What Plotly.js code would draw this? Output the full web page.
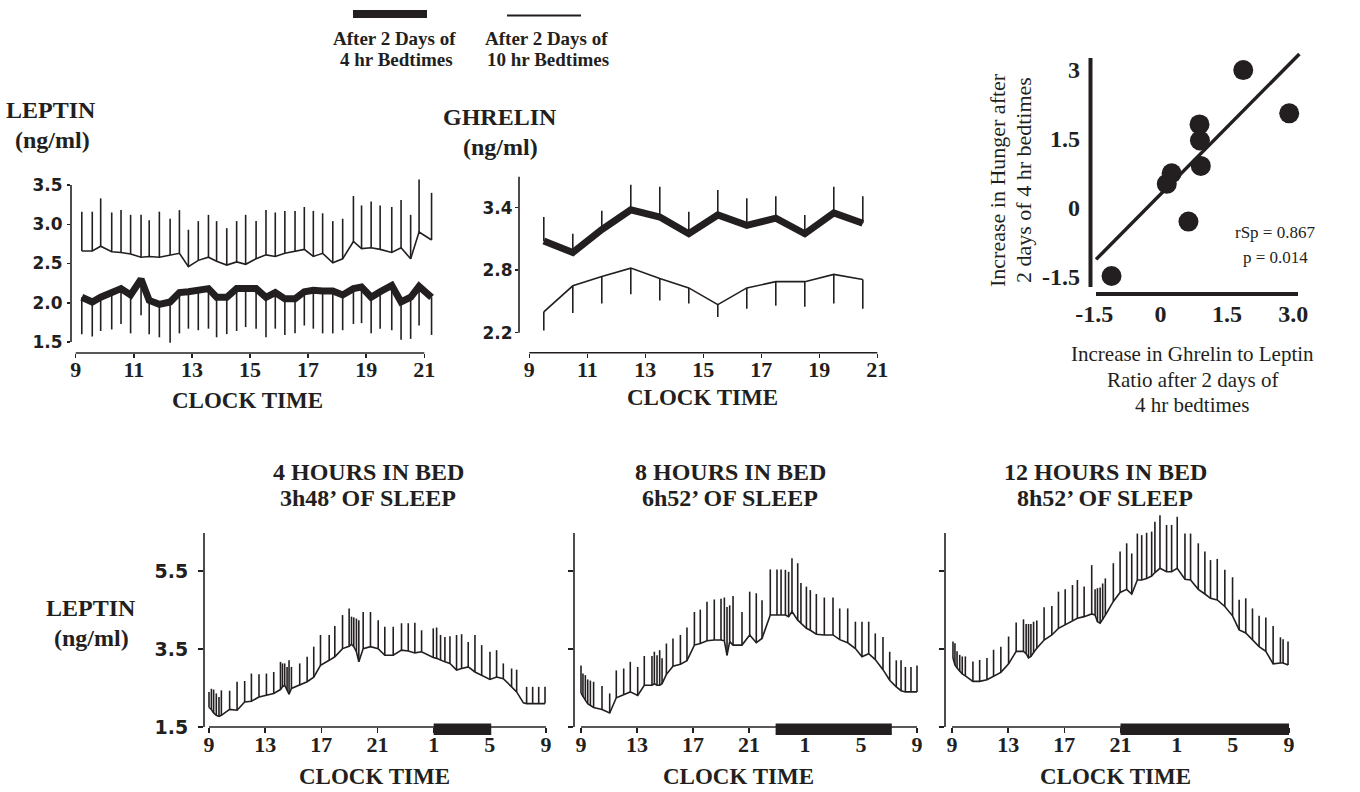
<!DOCTYPE html>
<html>
<head>
<meta charset="utf-8">
<script src="https://cdn.plot.ly/plotly-3.0.1.min.js"></script>
<style>html,body{margin:0;padding:0;background:#fff;}#chart{width:1360px;height:792px;}</style>
</head>
<body>
<div id="chart"></div>
<script>
// ---------------- DATA ----------------
// Top-left: leptin, 12 h daytime profile (hours)
const leptinTime = [9.21,9.57,9.86,10.24,10.56,10.89,11.25,11.53,11.88,12.25,12.57,12.88,13.22,13.57,13.85,14.20,14.54,14.85,15.21,15.55,15.87,16.20,16.55,16.87,17.18,17.50,17.85,18.19,18.56,18.84,19.17,19.48,19.88,20.20,20.53,20.82,21.25];
const leptin10Mean = [2.66,2.66,2.72,2.65,2.64,2.62,2.58,2.59,2.58,2.61,2.63,2.46,2.54,2.58,2.53,2.48,2.52,2.49,2.56,2.61,2.59,2.63,2.66,2.68,2.59,2.63,2.51,2.56,2.78,2.69,2.70,2.68,2.64,2.70,2.56,2.90,2.80];
const leptin10Upper = [3.16,3.16,3.33,3.15,3.18,3.12,3.12,3.05,3.16,3.07,3.18,2.93,3.04,3.12,3.04,2.95,3.04,3.12,3.04,3.18,3.15,3.17,3.17,3.22,3.17,3.14,3.04,3.07,3.36,3.24,3.29,3.24,3.22,3.31,3.12,3.57,3.40];
const leptin4Mean = [2.07,2.01,2.07,2.12,2.18,2.10,2.30,2.03,1.98,2.01,2.13,2.14,2.15,2.18,2.07,2.07,2.18,2.18,2.18,2.07,2.13,2.05,2.05,2.14,2.16,2.15,2.15,2.10,2.18,2.20,2.07,2.14,2.22,2.01,2.07,2.21,2.07];
const leptin4Lower = [1.60,1.57,1.64,1.66,1.73,1.61,1.84,1.60,1.56,1.49,1.61,1.67,1.65,1.67,1.56,1.60,1.64,1.69,1.67,1.56,1.67,1.59,1.61,1.71,1.67,1.61,1.61,1.65,1.73,1.74,1.61,1.67,1.65,1.53,1.54,1.71,1.59];

// Top-middle: ghrelin
const ghrelinTime = [9.5,10.5,11.5,12.5,13.5,14.5,15.5,16.5,17.5,18.5,19.5,20.5];
const ghrelin4Mean = [3.08,2.97,3.19,3.38,3.31,3.15,3.33,3.23,3.30,3.15,3.35,3.25];
const ghrelin4Upper = [3.31,3.15,3.37,3.62,3.60,3.36,3.57,3.49,3.51,3.33,3.60,3.51];
const ghrelin10Mean = [2.40,2.65,2.74,2.82,2.72,2.63,2.47,2.63,2.69,2.69,2.76,2.71];
const ghrelin10Lower = [2.22,2.39,2.48,2.57,2.51,2.48,2.35,2.43,2.46,2.45,2.48,2.43];

// Top-right: scatter
const ratioIncrease = [1.87,2.91,0.88,0.89,0.91,0.25,0.14,0.63,-1.11];
const hungerIncrease = [2.99,2.05,1.81,1.46,0.91,0.75,0.52,-0.30,-1.48];
const fitLineX = [-1.46,3.14];
const fitLineY = [-1.12,3.34];

// Bottom: 24 h leptin profiles (hours from 9 to 33 = 9 next morning)
const bedTicks = [9,13,17,21,25,29,33];
const bedTickText = ['9','13','17','21','1','5','9'];

const p4Time = [9.00,9.17,9.33,9.52,9.71,9.88,10.47,11.00,11.54,12.02,12.56,13.09,13.61,14.09,14.23,14.39,14.56,14.70,14.87,15.46,15.99,16.46,16.94,17.56,17.96,18.51,18.98,19.15,19.31,19.50,19.67,19.98,20.50,21.05,21.52,22.12,22.71,23.19,23.66,24.14,24.97,25.21,25.49,25.80,26.16,26.63,26.99,27.46,27.94,28.42,29.01,29.48,29.96,30.55,30.91,31.39,31.62,32.05,32.48,32.93];
const p4Mean = [2.00,1.95,1.86,1.80,1.77,1.80,1.95,1.93,2.14,2.16,2.27,2.31,2.36,2.46,2.53,2.57,2.44,2.34,2.49,2.57,2.66,2.78,3.08,3.21,3.30,3.51,3.57,3.62,3.56,3.43,3.17,3.51,3.56,3.51,3.34,3.34,3.47,3.45,3.40,3.43,3.28,3.26,3.21,3.17,3.13,2.96,3.00,3.04,2.91,2.83,2.72,2.78,2.74,2.53,2.40,2.12,2.10,2.10,2.10,2.10];
const p4Upper = [2.40,2.48,2.46,2.36,2.27,2.44,2.43,2.66,2.68,2.87,2.85,2.87,2.91,3.17,3.13,3.13,3.04,3.21,3.04,3.13,3.30,3.56,3.86,3.86,4.09,4.37,4.54,4.33,4.31,4.28,4.24,4.45,4.45,4.24,4.07,4.07,4.16,4.16,4.17,3.98,4.03,4.05,3.86,3.81,3.83,3.86,3.88,3.68,3.86,3.60,3.43,3.47,3.13,3.00,2.97,2.12,2.53,2.53,2.53,2.53];

const p8Time = [9.00,9.14,9.31,9.48,9.67,9.90,10.50,11.05,11.52,12.05,12.52,13.05,13.52,14.07,14.24,14.43,14.62,14.79,15.10,15.57,16.10,16.57,17.10,17.52,18.00,18.52,19.00,19.24,19.43,19.62,19.86,20.50,21.05,21.52,21.93,22.52,23.00,23.29,23.60,23.83,24.07,24.48,24.71,25.10,25.38,25.81,26.38,27.00,27.48,28.05,28.60,29.07,29.55,30.02,30.57,31.05,31.52,31.86,32.17,32.57,33.00];
const p8Mean = [2.37,2.27,2.19,2.10,2.05,2.00,1.95,1.86,2.25,2.34,2.40,2.31,2.57,2.57,2.61,2.57,2.57,2.61,2.85,3.06,3.11,3.20,3.60,3.64,3.71,3.73,3.73,3.71,3.34,3.69,3.60,3.60,3.86,3.66,3.77,4.37,4.37,4.37,4.37,4.33,4.46,4.24,4.16,4.03,3.98,3.88,3.86,3.86,3.74,3.66,3.51,3.30,3.38,3.23,2.97,2.70,2.53,2.43,2.40,2.40,2.40];
const p8Upper = [3.08,2.87,2.83,2.72,2.69,2.66,2.55,2.36,2.95,3.00,3.17,3.04,3.32,3.32,3.43,3.34,3.47,3.26,3.64,3.77,3.86,4.05,4.45,4.51,4.71,4.77,4.79,4.82,4.58,4.62,4.86,4.45,4.97,4.93,4.75,5.54,5.54,5.54,5.53,5.48,5.83,5.70,5.19,5.10,5.01,4.91,4.82,4.82,4.54,4.54,4.20,4.20,4.20,3.90,3.81,3.43,3.21,3.21,3.04,3.04,3.08];

const p12Time = [9.07,9.21,9.36,9.55,9.73,9.95,10.49,10.97,11.49,11.96,12.48,13.03,13.57,14.09,14.28,14.45,14.62,14.81,15.04,15.56,16.11,16.58,17.06,17.58,17.93,18.41,18.95,19.19,19.36,19.55,19.73,19.92,20.49,20.97,21.44,21.80,22.20,22.51,22.86,23.22,23.45,23.81,24.28,24.64,25.04,25.59,25.99,26.54,27.01,27.41,27.89,28.43,28.98,29.45,29.92,30.40,30.87,31.35,31.87,32.39,32.58,32.93];
const p12Mean = [3.27,3.09,3.01,2.92,2.86,2.81,2.67,2.67,2.71,2.80,2.90,3.12,3.44,3.44,3.38,3.27,3.31,3.41,3.52,3.73,3.86,4.03,4.12,4.23,4.29,4.33,4.40,4.37,4.20,4.16,4.25,4.37,4.72,4.95,5.03,4.91,5.27,5.27,5.31,5.37,5.46,5.57,5.48,5.48,5.57,5.29,5.27,5.03,4.91,4.80,4.76,4.59,4.35,3.99,3.91,3.73,3.56,3.44,3.12,3.14,3.14,3.09];
const p12Upper = [3.69,3.65,3.44,3.35,3.31,3.31,3.18,3.22,3.27,3.48,3.56,3.82,4.18,4.26,4.14,4.14,4.14,4.20,4.23,4.57,4.60,4.97,5.03,5.14,5.27,5.10,5.65,5.03,5.06,5.08,5.18,5.31,5.70,6.00,6.21,5.95,6.46,6.42,6.48,6.51,6.76,6.93,6.68,6.68,6.89,6.46,6.46,6.21,6.00,5.78,5.81,5.53,5.34,4.76,4.80,4.54,4.35,4.31,4.09,3.80,3.75,3.69];

// Sleep (lights-off) periods, hours
const sleepStart = [25.0, 22.9, 21.0];
const sleepEnd = [29.1, 31.2, 33.0];

// ---------------- HELPERS ----------------
const W = 1360, H = 792;
const px = p => p / W;
const py = p => 1 - p / H;
function lin(p, c) { return c[1] + (p - c[0]) * (c[3] - c[1]) / (c[2] - c[0]); }
function diff(a, b) { return a.map((v, i) => v - b[i]); }
const zeros = n => new Array(n).fill(0);

const INK = '#231f20';
const SERIF = 'Liberation Serif, Times New Roman, serif';
const SANS = 'DejaVu Sans, Arial, sans-serif';

function xAx(cal, a, b, extra) {
  return Object.assign({
    domain: [px(a), px(b)], range: [lin(a, cal), lin(b, cal)],
    showgrid: false, zeroline: false, showline: false,
    ticks: 'outside', ticklen: 4, tickwidth: 1.5, tickcolor: INK,
    tickfont: {family: SERIF, size: 22, color: INK, weight: 'bold'},
    fixedrange: true
  }, extra);
}
function yAx(cal, bottom, top, extra) {
  return Object.assign({
    domain: [py(bottom), py(top)], range: [lin(bottom, cal), lin(top, cal)],
    showgrid: false, zeroline: false, showline: false,
    ticks: 'outside', ticklen: 4, tickwidth: 1.5, tickcolor: INK,
    tickfont: {family: SANS, size: 17, color: INK, weight: 'bold'},
    fixedrange: true
  }, extra);
}

// pixel calibrations [pixel0, value0, pixel1, value1]
const calX1 = [75.7, 9, 424.3, 21], calY1 = [342, 1.5, 185, 3.5];
const calX2 = [529.3, 9, 877.3, 21], calY2 = [332.7, 2.2, 207.7, 3.4];
const calX3 = [1160.6, 0, 1293.2, 3], calY3 = [207.8, 0, 69.6, 3];
const calYB = [727, 1.5, 571, 5.5];
const calX4 = [209, 9, 546, 33], calX5 = [581, 9, 917, 33], calX6 = [952, 9, 1289, 33];

// ---------------- TRACES ----------------
const traces = [];
function errTrace(x, y, plus, minus, xa, ya, lw) {
  return {
    type: 'scatter', mode: 'lines', x: x, y: y, xaxis: xa, yaxis: ya,
    line: {color: INK, width: lw, shape: 'linear'},
    error_y: {type: 'data', symmetric: false, array: plus, arrayminus: minus,
              width: 0, thickness: 1.6, color: INK},
    hoverinfo: 'skip'
  };
}
traces.push(errTrace(leptinTime, leptin10Mean, diff(leptin10Upper, leptin10Mean), zeros(leptinTime.length), 'x', 'y', 1.6));
traces.push(errTrace(leptinTime, leptin4Mean, zeros(leptinTime.length), diff(leptin4Mean, leptin4Lower), 'x', 'y', 7));
traces.push(errTrace(ghrelinTime, ghrelin4Mean, diff(ghrelin4Upper, ghrelin4Mean), zeros(ghrelinTime.length), 'x2', 'y2', 7));
traces.push(errTrace(ghrelinTime, ghrelin10Mean, zeros(ghrelinTime.length), diff(ghrelin10Mean, ghrelin10Lower), 'x2', 'y2', 1.6));

traces.push({type: 'scatter', mode: 'lines', x: fitLineX, y: fitLineY, xaxis: 'x3', yaxis: 'y3',
  line: {color: INK, width: 3.5}, hoverinfo: 'skip'});
traces.push({type: 'scatter', mode: 'markers', x: ratioIncrease, y: hungerIncrease, xaxis: 'x3', yaxis: 'y3',
  marker: {color: INK, size: 20, line: {width: 0}}, hoverinfo: 'skip'});

traces.push(errTrace(p4Time, p4Mean, diff(p4Upper, p4Mean), zeros(p4Time.length), 'x4', 'y4', 1.6));
traces.push(errTrace(p8Time, p8Mean, diff(p8Upper, p8Mean), zeros(p8Time.length), 'x5', 'y5', 1.6));
traces.push(errTrace(p12Time, p12Mean, diff(p12Upper, p12Mean), zeros(p12Time.length), 'x6', 'y6', 1.6));

// ---------------- LAYOUT ----------------
const serifTick = {family: SERIF, size: 24, color: INK, weight: 'bold'};
const layout = {
  width: W, height: H, margin: {l: 0, r: 0, t: 0, b: 0},
  paper_bgcolor: '#fff', plot_bgcolor: 'rgba(0,0,0,0)', showlegend: false,
  xaxis: xAx(calX1, 71, 436, {anchor: 'free', position: py(353), tickvals: [9,11,13,15,17,19,21], ticklabelstandoff: -7}),
  yaxis: yAx(calY1, 348, 172, {anchor: 'x', tickvals: [1.5,2,2.5,3,3.5], ticktext: ['1.5','2.0','2.5','3.0','3.5'], ticklen: 3, ticklabelstandoff: 1}),
  xaxis2: xAx(calX2, 519, 885, {anchor: 'free', position: py(352.7), tickvals: [9,11,13,15,17,19,21], ticklabelstandoff: -7}),
  yaxis2: yAx(calY2, 340, 168, {anchor: 'x2', tickvals: [2.2,2.8,3.4], ticktext: ['2.2','2.8','3.4'], ticklen: 3, ticklabelstandoff: -1}),
  xaxis3: xAx(calX3, 1091, 1312, {anchor: 'y3', ticks: '', tickvals: [-1.5,0,1.5,3], ticktext: ['-1.5','0','1.5','3.0'], tickfont: serifTick, ticklabelstandoff: 3}),
  yaxis3: yAx(calY3, 294, 45, {anchor: 'x3', ticks: '', tickvals: [-1.5,0,1.5,3], ticktext: ['-1.5','0','1.5','3'], tickfont: serifTick, ticklabelstandoff: 10}),
  xaxis4: xAx(calX4, 204, 552, {anchor: 'y4', tickvals: bedTicks, ticktext: bedTickText, ticklen: 5, ticklabelstandoff: -7}),
  yaxis4: yAx(calYB, 727, 505, {anchor: 'x4', tickvals: [1.5,3.5,5.5], ticktext: ['1.5','3.5','5.5'], ticklen: 5, tickfont: {family: SANS, size: 19, color: INK, weight: 'bold'}, ticklabelstandoff: 6}),
  xaxis5: xAx(calX5, 574, 923, {anchor: 'y5', tickvals: bedTicks, ticktext: bedTickText, ticklen: 5, ticklabelstandoff: -7}),
  yaxis5: yAx(calYB, 727, 505, {anchor: 'x5', tickvals: [1.5,3.5,5.5], ticklen: 5, showticklabels: false}),
  xaxis6: xAx(calX6, 945, 1295, {anchor: 'y6', tickvals: bedTicks, ticktext: bedTickText, ticklen: 5, ticklabelstandoff: -7}),
  yaxis6: yAx(calYB, 727, 505, {anchor: 'x6', tickvals: [1.5,3.5,5.5], ticklen: 5, showticklabels: false}),
  shapes: [],
  annotations: []
};

const S = layout.shapes;
function axLine(o, w) { S.push(Object.assign({type: 'line', line: {color: INK, width: w || 1.6}, layer: 'above'}, o)); }
// top leptin axes
axLine({xref: 'paper', yref: 'y', x0: px(71), x1: px(71), y0: 1.5, y1: 3.5});
axLine({xref: 'x', yref: 'paper', x0: 9, x1: 21, y0: py(353), y1: py(353)});
// ghrelin axes
axLine({xref: 'paper', yref: 'y2', x0: px(519), x1: px(519), y0: 2.2, y1: lin(176.7, calY2)});
axLine({xref: 'x2', yref: 'paper', x0: 9, x1: 21, y0: py(352.7), y1: py(352.7)});
// scatter axes
axLine({xref: 'paper', yref: 'paper', x0: px(1090.5), x1: px(1090.5), y0: py(58), y1: py(287)}, 4);
axLine({xref: 'paper', yref: 'paper', x0: px(1096), x1: px(1298), y0: py(294), y1: py(294)}, 4);
// bottom panels
const bottomAx = [['x4','y4',204], ['x5','y5',574], ['x6','y6',945]];
bottomAx.forEach((b, i) => {
  axLine({xref: 'paper', yref: b[1], x0: px(b[2]), x1: px(b[2]), y0: 1.5, y1: lin(533, calYB)});
  axLine({xref: b[0], yref: 'paper', x0: 9, x1: 33, y0: py(727), y1: py(727)});
  S.push({type: 'rect', xref: b[0], yref: 'paper', x0: sleepStart[i], x1: sleepEnd[i], y0: py(735), y1: py(723.5),
          fillcolor: INK, line: {width: 0}, layer: 'above'});
});
// legend marks
S.push({type: 'rect', xref: 'paper', yref: 'paper', x0: px(353), x1: px(427), y0: py(18), y1: py(10), fillcolor: INK, line: {width: 0}});
S.push({type: 'line', xref: 'paper', yref: 'paper', x0: px(507), x1: px(581), y0: py(15.5), y1: py(15.5), line: {color: INK, width: 2}});

const A = layout.annotations;
function txt(t, x, y, size, bold, extra) {
  A.push(Object.assign({text: t, xref: 'paper', yref: 'paper', x: px(x), y: py(y), xanchor: 'center', yanchor: 'middle',
    showarrow: false, font: {family: SERIF, size: size, color: INK, weight: bold ? 'bold' : 'normal'}}, extra || {}));
}
// legend text
txt('After 2 Days of', 394, 38, 19, true);
txt('4 hr Bedtimes', 396, 59, 19, true);
txt('After 2 Days of', 546, 38, 19, true);
txt('10 hr Bedtimes', 548, 59, 19, true);
// top panel labels
txt('LEPTIN', 51, 110, 24, true);
txt('(ng/ml)', 52, 140, 24, true);
txt('GHRELIN', 500, 117, 24, true);
txt('(ng/ml)', 500, 147, 24, true);
txt('CLOCK TIME', 247, 401, 23, true);
txt('CLOCK TIME', 702, 398, 23, true);
// scatter labels
txt('Increase in Hunger after', 997, 180, 22, false, {textangle: -90});
txt('2 days of 4 hr bedtimes', 1023, 180, 22, false, {textangle: -90});
txt('Increase in Ghrelin to Leptin', 1192, 354, 21, false);
txt('Ratio after 2 days of', 1192, 380, 21, false);
txt('4 hr bedtimes', 1192, 405, 21, false);
txt('rSp = 0.867', 1275, 233, 17, false);
txt('p = 0.014', 1275, 257, 17, false);
// bottom titles
txt('4 HOURS IN BED', 368, 472, 24, true);
txt('3h48’ OF SLEEP', 368, 498, 24, true);
txt('8 HOURS IN BED', 730, 472, 24, true);
txt('6h52’ OF SLEEP', 730, 498, 24, true);
txt('12 HOURS IN BED', 1105, 472, 24, true);
txt('8h52’ OF SLEEP', 1105, 498, 24, true);
txt('LEPTIN', 91, 608, 24, true);
txt('(ng/ml)', 91, 638, 24, true);
txt('CLOCK TIME', 374, 776, 23, true);
txt('CLOCK TIME', 738, 776, 23, true);
txt('CLOCK TIME', 1115, 776, 23, true);

Plotly.newPlot('chart', traces, layout, {staticPlot: true, displayModeBar: false});
</script>
</body>
</html>
